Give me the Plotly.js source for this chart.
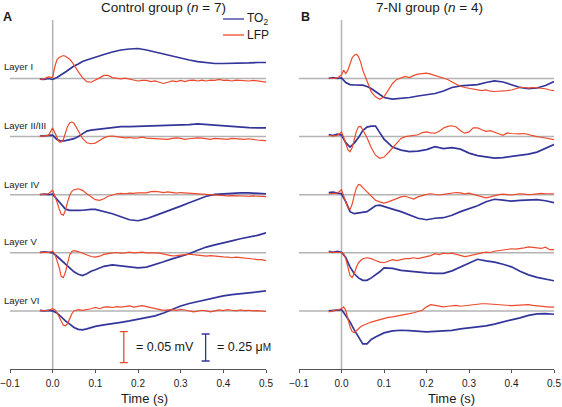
<!DOCTYPE html>
<html><head><meta charset="utf-8">
<script src="https://cdn.plot.ly/plotly-3.0.1.min.js"></script>
<style>html,body{margin:0;padding:0;background:#fff}#chart{width:562px;height:407px}</style>
</head><body><div id="chart"></div>
<script>
// ---------------- DATA ----------------
const layerNames = ['Layer I', 'Layer II/III', 'Layer IV', 'Layer V', 'Layer VI'];
const groupTitles = ['Control group (<i>n</i> = 7)', '7-NI group (<i>n</i> = 4)'];
const xTicks = [-0.1, 0, 0.1, 0.2, 0.3, 0.4, 0.5];

// time (s)
const timeLFP = [-0.03,-0.02,-0.01,0,0.005,0.01,0.015,0.02,0.025,0.03,0.035,0.04,0.045,0.05,0.06,0.07,0.08,0.09,0.1,0.11,0.12,0.13,0.14,0.15,0.16,0.17,0.18,0.19,0.2,0.21,0.22,0.23,0.24,0.25,0.26,0.27,0.28,0.29,0.3,0.31,0.32,0.33,0.34,0.35,0.36,0.37,0.38,0.39,0.4,0.41,0.42,0.43,0.44,0.45,0.46,0.47,0.48,0.49,0.5];
const timeTO2 = [-0.03,-0.02,-0.01,0,0.01,0.02,0.03,0.04,0.05,0.06,0.07,0.08,0.09,0.1,0.12,0.14,0.16,0.18,0.2,0.22,0.24,0.26,0.28,0.3,0.32,0.34,0.36,0.38,0.4,0.42,0.44,0.46,0.48,0.5];

// LFP (µV) – control group
const ctrlLFP_I   = [-1,-0.5,2.5,1.5,19,30,34,35,37,36,34,31,27,21,11,1.5,-5,-6,-3,1,5,5,1.5,0.5,-0.5,0.5,-1,-3,-4,-3,-3,-5,-4,-6,-8,-6,-4,-5,-3,-5,-3,-2.5,-4,-2.5,-4,-2.5,-3,-1.5,-3,-2.5,-4,-2.5,-3,-2.5,-4,-3,-4,-5,-6];
const ctrlLFP_II  = [0.5,1,2,14,6,-3,-8.5,-9,-5,6,16.5,22.5,23.5,21.5,9.5,-3,-10,-11.5,-10.5,-6.5,-2,0.5,1,0,-1,-2,-1.5,-2.5,-2,-1,-2.5,-3,-2.5,-3,-3.5,-4.5,-3,-2,-3,-4.5,-3.5,-2.5,-2,-2.5,-3.5,-4.5,-3,-3.5,-5,-4.5,-3,-3.5,-5,-4.5,-3.5,-5,-5.5,-6,-6.5];
const ctrlLFP_IV  = [0,0.5,1.5,7,-1,-11.5,-22.5,-31.5,-33,-25,-11.5,-1,5.5,8,9.5,7,1.5,-3.5,-8,-9,-6.5,-2.5,0,1.5,2,1.5,2.5,2,3,3.5,3,5,5.5,4.5,3.5,4.5,3,2.5,3.5,3,2.5,2,1.5,1,0,-0.5,-1,-0.5,-1.5,-2,-1.5,-2,-2.5,-2,-2.5,-2,-2.5,-3,-3];
const ctrlLFP_V   = [0,1,0.5,2.5,-1.5,-11,-23,-38,-40,-31,-15,-3,2,3.5,2,-0.5,-2.5,-6,-7,-5.5,-2.5,-1,0,0.5,-0.5,0,1,0,0.5,1,0,0.5,0,-0.5,-2,-3.5,-5,-4.5,-3.5,-3,-2,-3,-3.5,-5,-5.5,-4.5,-5.5,-6,-6.5,-7,-8,-7,-7.5,-8.5,-9.5,-10,-11,-11,-12.5];
const ctrlLFP_VI  = [0,1,1,3.5,2,-2.5,-9.5,-17.5,-23,-24,-20.5,-12.5,-4.5,0,2,1,2,3.5,5.5,3.5,6,6.5,5.5,7,6,7.5,8,6,7,8.5,7,5.5,3.5,2,1,1.5,2,1,2.5,1.5,0,-1.5,-0.5,1,0,-1.5,0,1.5,0.5,2,1,0,1.5,0.5,1,0,0.5,-0.5,-1];

// LFP (µV) – 7-NI group
const niLFP_I   = [1,0,1,5.5,13.5,8,13.5,24,33.5,37.5,39,35.5,26.5,13.5,-5.5,-21.5,-29.5,-33.5,-29.5,-18.5,-8,-1.5,1.5,3.5,1.5,5,7,8,8.5,7,5,2.5,0.5,-1.5,-5.5,-9,-12.5,-14.5,-16,-17.5,-18.5,-19.5,-18.5,-20.5,-21,-20.5,-21,-19.5,-18.5,-16.5,-14.5,-14.5,-15.5,-14.5,-15,-15.5,-16.5,-18.5,-19.5];
const niLFP_II  = [2,1,2,7.5,-1,-13,-21,-24.5,-18,-5,8.5,16,16.5,11,-2,-18,-30,-35,-33,-26,-18,-10,-3,0,1,1,3,6.5,7.5,6,5.5,8.5,14,16.5,17.5,15.5,9.5,5.5,7.5,14,14,11,8.5,9.5,7.5,4.5,2,6,5,4.5,4.5,5,3,1.5,0,-1,-2.5,-3.5,-5];
const niLFP_IV  = [1.5,2.5,2.5,8,-1,-11.5,-21,-24,-15.5,-1,11,16.5,15.5,11.5,5,-2.5,-9,-11.5,-13.5,-11.5,-9,-5.5,-3.5,-2.5,-5,-7,-3.5,-1,0.5,1.5,0.5,-0.5,0.5,1.5,3,3.5,3,1.5,2.5,0.5,-1.5,-3.5,-5,-3.5,-1.5,0,1,0,-0.5,0.5,1.5,1,0,0.5,1.5,2,1.5,2,1.5];
const niLFP_V   = [1,0.5,1,0.5,-1.5,-9.5,-23,-36.5,-40,-33.5,-23,-16,-12.5,-9.5,-8,-9.5,-12.5,-15,-16,-13.5,-11,-12.5,-10.5,-9.5,-9.5,-8,-9.5,-8,-6,-4.5,-1.5,-3,-0.5,-1.5,-0.5,-2.5,-4.5,-6,-5,-3,-1.5,0,1,0.5,2.5,3.5,5,5.5,6.5,6,6.5,8,9.5,9,8,7,9,5,5];
const niLFP_VI  = [-1.5,0,2,3.5,6.5,1,-12.5,-25.5,-33.5,-35,-32,-28.5,-25.5,-23.5,-20.5,-18,-16,-14,-13,-10.5,-9.5,-8.5,-7,-5.5,-4.5,-3,-1.5,1,6.5,10,9,7.5,6.5,7.5,8.5,9,7.5,8.5,9.5,10.5,11,11.5,11.5,11,10,9.5,9.5,9,8.5,9,9.5,9,10,9,8,7.5,6.5,6,6];

// TO2 (µM) – control group
const ctrlTO2_I   = [-0.005,-0.009,0,-0.009,0.009,0.032,0.060,0.088,0.116,0.134,0.157,0.171,0.185,0.201,0.222,0.245,0.264,0.273,0.278,0.264,0.245,0.222,0.204,0.185,0.171,0.157,0.148,0.139,0.139,0.139,0.144,0.144,0.148,0.148];
const ctrlTO2_II  = [0.005,0.009,0.014,0.014,-0.028,-0.042,-0.037,-0.028,-0.019,0,0.028,0.051,0.060,0.065,0.079,0.088,0.093,0.093,0.095,0.097,0.097,0.102,0.105,0.106,0.111,0.118,0.111,0.105,0.097,0.090,0.086,0.083,0.081,0.081];
const ctrlTO2_IV  = [0,0.005,0,0.005,-0.042,-0.088,-0.134,-0.145,-0.148,-0.145,-0.144,-0.139,-0.136,-0.136,-0.153,-0.176,-0.204,-0.232,-0.241,-0.222,-0.194,-0.167,-0.139,-0.106,-0.074,-0.042,-0.014,0.003,0.009,0.016,0.016,0.016,0.012,0.009];
const ctrlTO2_V   = [0.005,0.009,0.005,0,-0.032,-0.069,-0.111,-0.148,-0.176,-0.199,-0.210,-0.194,-0.171,-0.157,-0.125,-0.111,-0.120,-0.130,-0.139,-0.132,-0.111,-0.083,-0.056,-0.032,-0.009,0.023,0.053,0.074,0.090,0.111,0.130,0.144,0.162,0.185];
const ctrlTO2_VI  = [0.005,0,0.005,0,-0.019,-0.060,-0.093,-0.123,-0.153,-0.171,-0.176,-0.167,-0.153,-0.144,-0.130,-0.120,-0.106,-0.093,-0.079,-0.065,-0.046,-0.019,0.014,0.046,0.069,0.088,0.106,0.125,0.139,0.151,0.157,0.167,0.176,0.185];

// TO2 (µM) – 7-NI group
const niTO2_I   = [0,0.009,0,0.005,-0.037,-0.056,-0.060,-0.060,-0.062,-0.074,-0.093,-0.120,-0.148,-0.176,-0.190,-0.185,-0.176,-0.162,-0.153,-0.139,-0.116,-0.083,-0.069,-0.065,-0.056,-0.037,-0.023,-0.032,-0.056,-0.083,-0.093,-0.088,-0.065,-0.028];
const niTO2_II  = [0.019,0.009,0.023,0.014,-0.056,-0.097,-0.060,-0.009,0.056,0.088,0.097,0.097,0.037,-0.023,-0.097,-0.125,-0.139,-0.134,-0.120,-0.093,-0.111,-0.102,-0.116,-0.153,-0.176,-0.190,-0.199,-0.194,-0.185,-0.176,-0.162,-0.144,-0.111,-0.074];
const niTO2_IV  = [0.019,0.023,0.014,0.009,-0.065,-0.157,-0.176,-0.171,-0.167,-0.157,-0.130,-0.102,-0.097,-0.111,-0.134,-0.157,-0.185,-0.218,-0.232,-0.218,-0.213,-0.190,-0.157,-0.130,-0.102,-0.065,-0.042,-0.051,-0.060,-0.053,-0.046,-0.046,-0.056,-0.074];
const niTO2_V   = [0.014,0.005,0.014,0.005,-0.042,-0.130,-0.194,-0.232,-0.255,-0.255,-0.232,-0.208,-0.176,-0.139,-0.144,-0.162,-0.171,-0.181,-0.185,-0.190,-0.190,-0.167,-0.130,-0.093,-0.060,-0.074,-0.086,-0.106,-0.130,-0.171,-0.204,-0.227,-0.241,-0.259];
const niTO2_VI  = [0,0.005,0.009,0.012,-0.042,-0.102,-0.176,-0.241,-0.306,-0.306,-0.264,-0.241,-0.222,-0.204,-0.185,-0.179,-0.182,-0.188,-0.194,-0.190,-0.185,-0.181,-0.167,-0.157,-0.151,-0.139,-0.122,-0.106,-0.083,-0.065,-0.042,-0.028,-0.025,-0.031];

// scale bars
const scaleLFP_uV = 50;     // = 0.05 mV
const scaleTO2_uM = 0.25;   // = 0.25 µM

// ---------------- LAYOUT / DRAWING ----------------
const W = 562, H = 407, mT = 20, mB = 38;
const plotH = H - mT - mB;
const pxPerUV = 31 / scaleLFP_uV;   // vertical pixels per µV
const pxPerUM = 27 / scaleTO2_uM;   // vertical pixels per µM
const rowPx = 58.1;
const BLUE = '#34359a', RED = '#ec4a2c', GRAY = '#b3b3b3';
const FONT = 'Liberation Sans, Arial, Helvetica, sans-serif';

const groups = [
  {lfp: [ctrlLFP_I, ctrlLFP_II, ctrlLFP_IV, ctrlLFP_V, ctrlLFP_VI], to2: [ctrlTO2_I, ctrlTO2_II, ctrlTO2_IV, ctrlTO2_V, ctrlTO2_VI], xa: 'x', yT: 'y', yL: 'y2'},
  {lfp: [niLFP_I, niLFP_II, niLFP_IV, niLFP_V, niLFP_VI], to2: [niTO2_I, niTO2_II, niTO2_IV, niTO2_V, niTO2_VI], xa: 'x2', yT: 'y3', yL: 'y4'}
];

const traces = [];
const shapes = [];
groups.forEach(g => {
  layerNames.forEach((name, k) => {
    const basePx = (layerNames.length - k) * rowPx;
    const offT = basePx / pxPerUM, offL = basePx / pxPerUV;
    traces.push({x: timeTO2, y: g.to2[k].map(v => v + offT), xaxis: g.xa, yaxis: g.yT,
      type: 'scatter', mode: 'lines', line: {color: BLUE, width: 1.7}, hoverinfo: 'skip', showlegend: false});
    traces.push({x: timeLFP, y: g.lfp[k].map(v => v + offL), xaxis: g.xa, yaxis: g.yL,
      type: 'scatter', mode: 'lines', line: {color: RED, width: 1.2}, hoverinfo: 'skip', showlegend: false});
    shapes.push({type: 'line', layer: 'below', xref: g.xa, yref: g.yT, x0: -0.1, x1: 0.5, y0: offT, y1: offT,
      line: {color: GRAY, width: 1.5}});
  });
  shapes.push({type: 'line', layer: 'below', xref: g.xa, yref: 'paper', x0: 0, x1: 0, y0: 0, y1: 1,
    line: {color: GRAY, width: 1.5}});
});

// scale bars (panel A)
traces.push({x: [0.1667], y: [21.8 / pxPerUV], xaxis: 'x', yaxis: 'y2', type: 'scatter', mode: 'markers',
  marker: {size: 1, color: 'rgba(0,0,0,0)'}, hoverinfo: 'skip', showlegend: false,
  error_y: {type: 'data', array: [scaleLFP_uV / 2], color: RED, thickness: 1.3, width: 4}});
traces.push({x: [0.3585], y: [21.5 / pxPerUM], xaxis: 'x', yaxis: 'y', type: 'scatter', mode: 'markers',
  marker: {size: 1, color: 'rgba(0,0,0,0)'}, hoverinfo: 'skip', showlegend: false,
  error_y: {type: 'data', array: [scaleTO2_uM / 2], color: BLUE, thickness: 1.3, width: 4}});

const px2x = p => p / W;
const py2y = p => (H - mB - p) / plotH;

// legend lines
shapes.push({type: 'line', xref: 'paper', yref: 'paper', x0: px2x(223), x1: px2x(244), y0: py2y(19), y1: py2y(19), line: {color: BLUE, width: 1.3}});
shapes.push({type: 'line', xref: 'paper', yref: 'paper', x0: px2x(223), x1: px2x(244), y0: py2y(35), y1: py2y(35), line: {color: RED, width: 1.3}});

const ann = [];
const txt = (text, x, y, size, opts) => Object.assign({text, xref: 'paper', yref: 'paper', x: px2x(x), y: py2y(y),
  showarrow: false, font: {family: FONT, size, color: '#1a1a1a'}, xanchor: 'center', yanchor: 'middle'}, opts || {});

ann.push(txt(groupTitles[0], 163, 7, 13.5));
ann.push(txt(groupTitles[1], 429.5, 7, 13.5));
ann.push(txt('<b>A</b>', 7.5, 16.7, 12.5));
ann.push(txt('<b>B</b>', 305.5, 16.7, 12.5));
ann.push(txt('TO<sub>2</sub>', 245, 19, 12, {xanchor: 'left'}));
ann.push(txt('LFP', 245, 35, 12, {xanchor: 'left'}));
const labelY = [67, 125.3, 184.5, 241, 300.3];
layerNames.forEach((n, k) => ann.push(txt(n, 2, labelY[k], 9.5, {xanchor: 'left'})));
ann.push(txt('= 0.05 mV', 134, 347.3, 12.5, {xanchor: 'left'}));
ann.push(txt('= 0.25 μ<span style="font-size:10px">M</span>', 215, 347.3, 12.5, {xanchor: 'left'}));
ann.push(txt('Time (s)', 144.5, 398.5, 13));
ann.push(txt('Time (s)', 451, 398.5, 13));

const xaxisBase = {range: [-0.1, 0.5], tickvals: xTicks, tickformat: '.1f', ticks: 'outside', ticklen: 3,
  tickcolor: '#555', showline: true, linecolor: '#555', linewidth: 1, showgrid: false, zeroline: false,
  ticklabelstandoff: 2,
  tickfont: {family: FONT, size: 10, color: '#1a1a1a'}, automargin: false, fixedrange: true};
const yHidden = {visible: false, showgrid: false, zeroline: false, domain: [0, 1], fixedrange: true};

const layout = {
  width: W, height: H, margin: {l: 0, r: 0, t: mT, b: mB, pad: 0},
  paper_bgcolor: '#fff', plot_bgcolor: 'rgba(0,0,0,0)', showlegend: false,
  xaxis: Object.assign({}, xaxisBase, {domain: [10 / W, 266 / W], anchor: 'y'}),
  xaxis2: Object.assign({}, xaxisBase, {domain: [299 / W, 554 / W], anchor: 'y3'}),
  yaxis: Object.assign({}, yHidden, {range: [0, plotH / pxPerUM], anchor: 'x'}),
  yaxis2: Object.assign({}, yHidden, {range: [0, plotH / pxPerUV], anchor: 'x', overlaying: 'y'}),
  yaxis3: Object.assign({}, yHidden, {range: [0, plotH / pxPerUM], anchor: 'x2'}),
  yaxis4: Object.assign({}, yHidden, {range: [0, plotH / pxPerUV], anchor: 'x2', overlaying: 'y3'}),
  shapes, annotations: ann, font: {family: FONT}
};

Plotly.newPlot('chart', traces, layout, {staticPlot: true, displayModeBar: false});
</script>
</body></html>
